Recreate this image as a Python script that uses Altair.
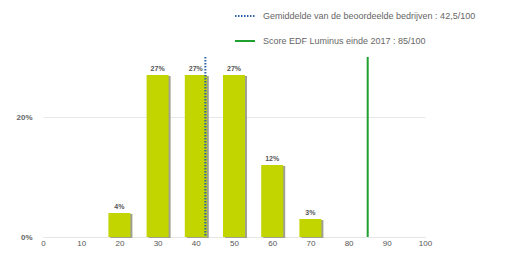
import altair as alt
import pandas as pd

bins = [20, 30, 40, 50, 60, 70]
pct = [0.04, 0.27, 0.27, 0.27, 0.12, 0.03]
ref_names = ["Gemiddelde van de beoordeelde bedrijven : 42,5/100", "Score EDF Luminus einde 2017 : 85/100"]
ref_values = [42.5, 85]
x_ticks = [0, 10, 20, 30, 40, 50, 60, 70, 80, 90, 100]
y_ticks = [0, 0.2]

bars_df = pd.DataFrame({"score": bins, "pct": pct})
ref_df = pd.DataFrame({"name": ref_names, "value": ref_values})

FONT = "Liberation Sans"
xs = alt.Scale(domain=[0, 100], nice=False, padding=0)
ys = alt.Scale(domain=[0, 0.30], nice=False)

x_axis = alt.Axis(values=x_ticks, grid=False, ticks=False, domain=True, domainColor="#e6e6e6",
                  labelColor="#555555", labelFontSize=8, labelPadding=2, labelOverlap=False,
                  labelFlush=False, title=None)
y_axis = alt.Axis(values=y_ticks, format=".0%", grid=True, gridColor="#e8e8e8", ticks=False,
                  domain=False, labelColor="#666666", labelFontSize=8, labelFontWeight="bold",
                  labelPadding=11, title=None)

leg = dict(title=None, orient="none", legendX=191, legendY=-52,
           symbolType="stroke", symbolSize=400, symbolStrokeWidth=2,
           labelFontSize=9, labelColor="#666666", labelFont=FONT, labelLimit=400,
           rowPadding=9, labelOffset=7)

X = alt.X("score:Q", scale=xs, axis=x_axis)
Y = alt.Y("pct:Q", scale=ys, axis=y_axis)

base = alt.Chart(bars_df)
shadow = base.mark_bar(size=22, color="#a0a090", xOffset=2, yOffset=1).encode(x=X, y=Y)
bars = base.mark_bar(size=22, color="#c2d500").encode(x=X, y=Y)
labels = base.mark_text(dy=-6, fontSize=7, fontWeight="bold", color="#555555", font=FONT).encode(
    x=X, y=Y, text=alt.Text("pct:Q", format=".0%"),
)
rules = alt.Chart(ref_df).mark_rule(strokeWidth=2).encode(
    x=alt.X("value:Q", scale=xs, axis=x_axis),
    color=alt.Color("name:N", scale=alt.Scale(domain=ref_names, range=["#2a62a8", "#1fa02f"]),
                    legend=alt.Legend(**leg)),
    strokeDash=alt.StrokeDash("name:N", scale=alt.Scale(domain=ref_names, range=[[1.5, 1.5], [1, 0]]),
                              legend=alt.Legend(**leg)),
)

chart = alt.layer(shadow, bars, labels, rules).properties(
    width=382, height=180,
    autosize=alt.AutoSizeParams(type="none"),
    padding={"left": 35, "top": 49, "right": 84, "bottom": 12},
).configure_view(stroke=None).configure_axis(labelFont=FONT)

chart.save("out.html", embed_options={"renderer": "svg", "actions": False})
